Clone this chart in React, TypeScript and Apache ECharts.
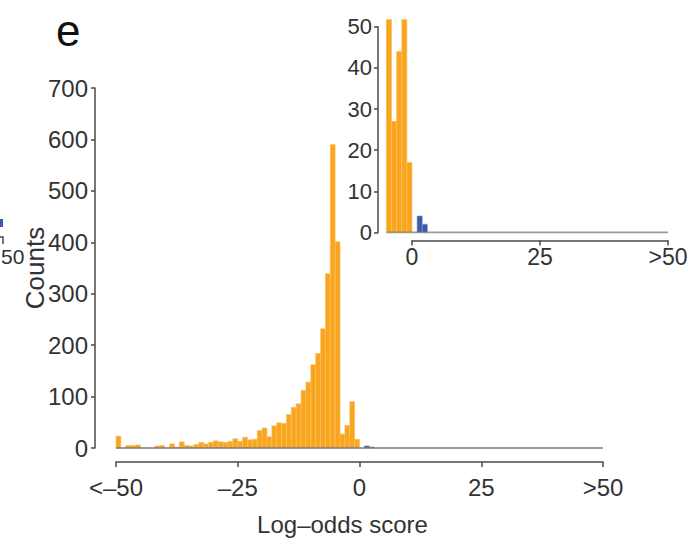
import React, { useEffect, useRef } from "react";
import * as echarts from "echarts";

// Histogram bins are 1 unit wide; counts given from the first bin's left edge
const orangeFirstBin = -50;
const orangeCounts = [
  23, 0, 5, 5, 6, 0, 0, 0, 4, 5, 0, 8, 2, 12, 5, 4, 7, 11, 8, 11, 14, 12, 11, 13, 18,
  13, 21, 16, 17, 34, 39, 22, 43, 49, 48, 65, 79, 86, 112, 128, 162, 184, 232, 339, 590,
  401, 27, 44, 90, 17,
];
const blueFirstBin = 1;
const blueCounts = [4, 2];

const mainXTickLabels: Record<string, string> = {
  "-50": "<–50",
  "-25": "–25",
  "0": "0",
  "25": "25",
  "50": ">50",
};
const insetXTickLabels: Record<string, string> = { "0": "0", "25": "25", "50": ">50" };

const ORANGE = "#F9A51E";
const ORANGE_EDGE = "#FCC163";
const BLUE = "#3C58A8";
const BLUE_EDGE = "#7F93CC";
const AXIS = "#4a4a4a";
const TEXT = "#333333";
const FONT = "Liberation Sans, Arial, sans-serif";

const toBins = (first: number, counts: number[]) =>
  counts.map((c, i) => [first + i, first + i + 1, c]);

const makeRender = (fill: string, stroke: string) => (params: any, api: any) => {
  const p0 = api.coord([api.value(0), api.value(2)]);
  const p1 = api.coord([api.value(1), 0]);
  const cs = params.coordSys;
  const shape = echarts.graphic.clipRectByRect(
    { x: p0[0], y: p0[1], width: p1[0] - p0[0], height: p1[1] - p0[1] },
    { x: cs.x, y: cs.y, width: cs.width, height: cs.height }
  );
  if (!shape || shape.height <= 0) return null;
  return { type: "rect", shape, style: { fill, stroke, lineWidth: 0.6 } };
};

export default function App() {
  const ref = useRef<HTMLDivElement>(null);
  useEffect(() => {
    if (!ref.current) return;
    const chart = echarts.init(ref.current, null, { renderer: "svg" });
    const orangeData = toBins(orangeFirstBin, orangeCounts);
    const blueData = toBins(blueFirstBin, blueCounts);

    const axisLine = { show: true, onZero: false, lineStyle: { color: AXIS, width: 1.5 } };
    const axisTick = { show: true, length: 5, lineStyle: { color: AXIS, width: 1.5 } };

    const option: any = {
      animation: false,
      backgroundColor: "#ffffff",
      grid: [
        { left: 116, top: 88, width: 487, height: 360, outerBoundsMode: "none" },
        { left: 412, top: 26.7, width: 256, height: 205.8, outerBoundsMode: "none" },
        { left: 386.4, top: 19.3, width: 281.6, height: 213.2, outerBoundsMode: "none" },
      ],
      xAxis: [
        {
          gridIndex: 0,
          type: "value",
          min: -50,
          max: 50,
          interval: 25,
          offset: 14,
          axisLine,
          axisTick,
          splitLine: { show: false },
          axisLabel: {
            fontSize: 24,
            color: TEXT,
            fontFamily: FONT,
            margin: 13,
            formatter: (v: number) => mainXTickLabels[String(v)] ?? "",
          },
          name: "Log–odds score",
          nameLocation: "middle",
          nameGap: 50,
          nameMoveOverlap: false,
          nameTextStyle: { fontSize: 24, color: TEXT, fontFamily: FONT, padding: [0, 34, 0, 0] },
        },
        {
          gridIndex: 1,
          type: "value",
          min: 0,
          max: 50,
          interval: 25,
          offset: 8,
          axisLine,
          axisTick,
          splitLine: { show: false },
          axisLabel: {
            fontSize: 23,
            color: TEXT,
            fontFamily: FONT,
            margin: 5,
            formatter: (v: number) => insetXTickLabels[String(v)] ?? "",
          },
        },
        { gridIndex: 2, type: "value", min: -5, max: 50, show: false },
      ],
      yAxis: [
        {
          gridIndex: 0,
          type: "value",
          min: 0,
          max: 700,
          interval: 100,
          offset: 21,
          axisLine,
          axisTick: { ...axisTick, length: 4 },
          splitLine: { show: false },
          axisLabel: { fontSize: 24, color: TEXT, fontFamily: FONT, margin: 7 },
          name: "Counts",
          nameLocation: "middle",
          nameRotate: 90,
          nameGap: 47,
          nameMoveOverlap: false,
          nameTextStyle: { fontSize: 26, color: TEXT, fontFamily: FONT },
        },
        {
          gridIndex: 1,
          type: "value",
          min: 0,
          max: 50,
          interval: 10,
          offset: 34,
          axisLine,
          axisTick: { ...axisTick, length: 4 },
          splitLine: { show: false },
          axisLabel: { fontSize: 22, color: TEXT, fontFamily: FONT, margin: 6 },
        },
        { gridIndex: 2, type: "value", min: 0, max: 51.8, show: false },
      ],
      series: [
        {
          type: "custom",
          xAxisIndex: 0,
          yAxisIndex: 0,
          data: orangeData,
          encode: { x: [0, 1], y: 2 },
          renderItem: makeRender(ORANGE, ORANGE_EDGE),
          silent: true,
        },
        {
          type: "custom",
          xAxisIndex: 0,
          yAxisIndex: 0,
          data: blueData,
          encode: { x: [0, 1], y: 2 },
          renderItem: makeRender(BLUE, BLUE_EDGE),
          silent: true,
        },
        {
          type: "line",
          xAxisIndex: 0,
          yAxisIndex: 0,
          data: [
            [-50, 0],
            [50, 0],
          ],
          symbol: "none",
          lineStyle: { color: "#7a7a7a", width: 2, opacity: 0.75 },
          silent: true,
          z: 5,
        },
        {
          type: "custom",
          xAxisIndex: 2,
          yAxisIndex: 2,
          data: orangeData,
          encode: { x: [0, 1], y: 2 },
          renderItem: makeRender(ORANGE, ORANGE_EDGE),
          clip: true,
          silent: true,
        },
        {
          type: "custom",
          xAxisIndex: 2,
          yAxisIndex: 2,
          data: blueData,
          encode: { x: [0, 1], y: 2 },
          renderItem: makeRender(BLUE, BLUE_EDGE),
          clip: true,
          silent: true,
        },
        {
          type: "line",
          xAxisIndex: 2,
          yAxisIndex: 2,
          data: [
            [-5, 0],
            [50, 0],
          ],
          symbol: "none",
          lineStyle: { color: "#7a7a7a", width: 2, opacity: 0.75 },
          silent: true,
          z: 5,
        },
      ],
      graphic: [
        {
          type: "text",
          left: 56,
          top: 8,
          style: { text: "e", fontSize: 44, fill: "#111", fontFamily: FONT },
        },
        // fragment of the neighbouring panel at the left edge
        { type: "rect", shape: { x: -2, y: 219, width: 5, height: 8 }, style: { fill: BLUE } },
        {
          type: "polyline",
          shape: { points: [[-5, 237], [3, 237], [3, 244]] },
          style: { stroke: AXIS, lineWidth: 1.5, fill: "none" },
        },
        {
          type: "text",
          x: 1,
          y: 256,
          style: {
            text: "50",
            fontSize: 21,
            fill: TEXT,
            fontFamily: FONT,
            align: "left",
            verticalAlign: "middle",
          },
        },
      ],
    };
    chart.setOption(option);
    return () => chart.dispose();
  }, []);
  return (
    <div
      ref={ref}
      style={{ position: "fixed", left: 0, top: 0, width: 689, height: 544, background: "#fff" }}
    />
  );
}
